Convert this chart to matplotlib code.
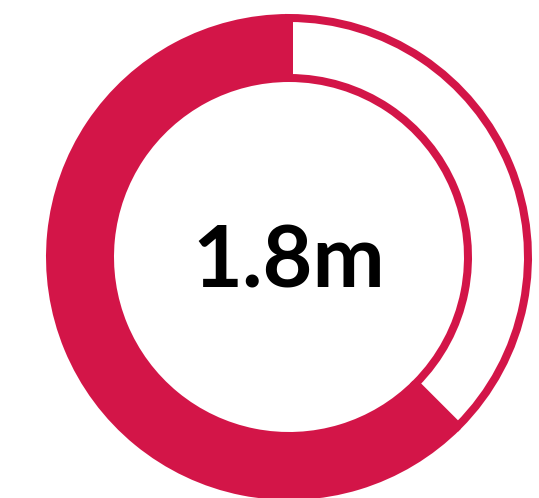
import matplotlib.pyplot as plt

labels = ['remaining', 'filled']
values = [37.5, 62.5]
center_text = '1.8m'

red = '#D31548'

fig = plt.figure(figsize=(5.39, 4.98), dpi=100)
ax = fig.add_axes([0, 0, 1, 1])

# pie in pixel-like data units so the ring is cut off at the bottom like the original
wedges, _ = ax.pie(values, radius=243, center=(289, 241), startangle=90,
                   counterclock=False, colors=['white', red],
                   wedgeprops=dict(width=68, linewidth=0))

# unfilled part: white with a red outline kept inside the ring
lw_px = 8
w = wedges[0]
w.set_radius(243 - lw_px / 2)
w.set_width(68 - lw_px)
w.set_edgecolor(red)
w.set_linewidth(lw_px * 72 / 100)
w.set_joinstyle('miter')

ax.text(289, 235, center_text, ha='center', va='center', fontsize=62,
        fontweight='bold', family=['Lato', 'DejaVu Sans'], color='black')

ax.set_xlim(0, 539)
ax.set_ylim(0, 498)
ax.set_aspect('equal')
ax.axis('off')

fig.savefig('out.png', dpi=100)
